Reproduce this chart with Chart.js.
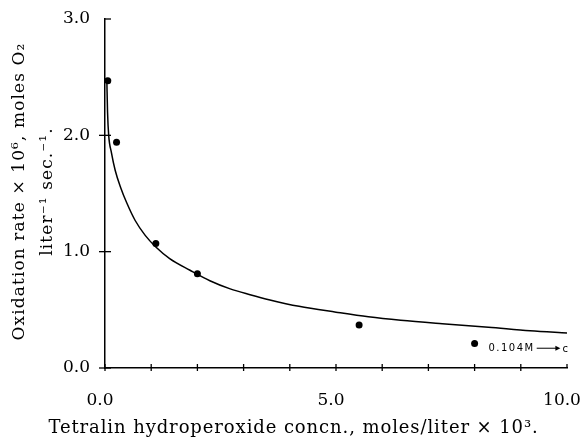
<!DOCTYPE html>
<html><head><meta charset="utf-8">
<script src="https://cdn.jsdelivr.net/npm/chart.js@4/dist/chart.umd.min.js"></script>
<style>html,body{margin:0;padding:0;background:#fff}#wrap{width:587px;height:441px}</style>
</head><body><div id="wrap"><canvas id="c"></canvas></div>
<script>
// Measured data points
const pointsX = [0.06, 0.25, 1.1, 2.0, 5.5, 8.0];
const pointsY = [2.47, 1.94, 1.07, 0.81, 0.37, 0.21];
// Smooth fitted curve
const curveX = [0.04, 0.055, 0.08, 0.14, 0.22, 0.34, 0.47, 0.65, 0.87, 1.1, 1.4, 1.84, 2.27, 2.71, 3.14, 3.57, 4.2, 5.0, 5.7, 6.4, 7.3, 8.3, 9.2, 10.0];
const curveY = [2.47, 2.2, 2.0, 1.85, 1.70, 1.55, 1.42, 1.27, 1.14, 1.04, 0.94, 0.84, 0.75, 0.68, 0.63, 0.585, 0.53, 0.48, 0.44, 0.41, 0.38, 0.35, 0.32, 0.30];
// Ticks
const xTickValues = [0,1,2,3,4,5,6,7,8,9,10];
const xLabeled = [0, 5, 10];
const yTickValues = [0, 1, 2, 3];
const xTitle = 'Tetralin hydroperoxide concn., moles/liter × 10³.';
const yTitle = ['Oxidation rate × 10⁶, moles O₂', 'liter⁻¹ sec.⁻¹.'];
const annotation = {x: 8.3, y: 0.17, text: '0.104M', arrowTo: 9.9, end: 'c'};

const SERIF = "'DejaVu Serif', 'Liberation Serif', serif";

const decoPlugin = {
  id: 'deco',
  afterDraw(chart) {
    const {ctx, scales: {x, y}, chartArea, width, height} = chart;
    ctx.save();
    ctx.strokeStyle = '#000';
    ctx.fillStyle = '#000';
    ctx.lineWidth = 1.3;
    const y0 = y.getPixelForValue(0);
    const x0 = x.getPixelForValue(0);
    xTickValues.forEach(v => {
      const px = x.getPixelForValue(v);
      ctx.beginPath();
      ctx.moveTo(px, y0 - 4);
      ctx.lineTo(px, v === 10 ? y0 : y0 + 3);
      ctx.stroke();
    });
    yTickValues.forEach(v => {
      const py = y.getPixelForValue(v);
      ctx.beginPath();
      ctx.moveTo(v === 3 ? x0 : x0 - 6, py);
      ctx.lineTo(x0 + 6, py);
      ctx.stroke();
    });
    // axis titles
    ctx.textBaseline = 'middle';
    ctx.textAlign = 'center';
    ctx.font = "18px " + SERIF;
    ctx.letterSpacing = '0.9px';
    ctx.fillText(xTitle, width / 2, height - 13);
    const cy = (chartArea.top + chartArea.bottom) / 2 - 2;
    ctx.font = "17px " + SERIF;
    ctx.letterSpacing = '1.1px';
    [20, 48].forEach((tx, i) => {
      ctx.save();
      ctx.translate(tx, cy);
      ctx.rotate(-Math.PI / 2);
      ctx.fillText(yTitle[i], 0, 0);
      ctx.restore();
    });
    // annotation
    const ax = x.getPixelForValue(annotation.x);
    const ay = y.getPixelForValue(annotation.y);
    ctx.font = "10px 'DejaVu Sans', sans-serif";
    ctx.letterSpacing = '1.5px';
    ctx.textAlign = 'left';
    ctx.fillText(annotation.text, ax, ay);
    const w = ctx.measureText(annotation.text).width;
    const ex = x.getPixelForValue(annotation.arrowTo);
    ctx.lineWidth = 1;
    ctx.beginPath();
    ctx.moveTo(ax + w + 2, ay);
    ctx.lineTo(ex - 6, ay);
    ctx.stroke();
    ctx.beginPath();
    ctx.moveTo(ex - 2, ay);
    ctx.lineTo(ex - 7, ay - 2.5);
    ctx.lineTo(ex - 7, ay + 2.5);
    ctx.closePath();
    ctx.fill();
    ctx.letterSpacing = '0px';
    ctx.fillText(annotation.end, ex, ay + 1);
    ctx.restore();
  }
};

new Chart(document.getElementById('c'), {
  type: 'scatter',
  data: {
    datasets: [
      {
        data: curveX.map((v, i) => ({x: v, y: curveY[i]})),
        showLine: true,
        borderColor: '#000',
        borderWidth: 1.5,
        pointRadius: 0,
        cubicInterpolationMode: 'monotone',
        fill: false
      },
      {
        data: pointsX.map((v, i) => ({x: v, y: pointsY[i]})),
        showLine: false,
        pointRadius: 3.5,
        backgroundColor: '#000',
        borderColor: '#000',
        borderWidth: 0
      }
    ]
  },
  options: {
    responsive: true,
    maintainAspectRatio: false,
    animation: false,
    devicePixelRatio: 1,
    layout: {padding: 0},
    plugins: {
      legend: {display: false},
      tooltip: {enabled: false},
      title: {display: false}
    },
    scales: {
      x: {
        type: 'linear',
        min: 0, max: 10,
        grid: {display: false, drawTicks: false},
        border: {display: true, color: '#000', width: 1.5},
        ticks: {
          stepSize: 1,
          autoSkip: false,
          maxRotation: 0,
          padding: 22,
          labelOffset: -5,
          color: '#000',
          font: {family: SERIF, size: 17},
          callback: v => xLabeled.includes(v) ? v.toFixed(1) : ''
        },
        afterFit(s) { s.height = 73; s.paddingLeft = 0; s.paddingRight = 20; }
      },
      y: {
        min: 0, max: 3,
        grid: {display: false, drawTicks: false},
        border: {display: true, color: '#000', width: 1.5},
        ticks: {
          stepSize: 1,
          padding: 15,
          color: '#000',
          font: {family: SERIF, size: 17},
          callback: v => v.toFixed(1)
        },
        afterFit(s) { s.width = 105; s.paddingTop = 19; s.paddingBottom = 0; }
      }
    }
  },
  plugins: [decoPlugin]
});
</script>
</body></html>
